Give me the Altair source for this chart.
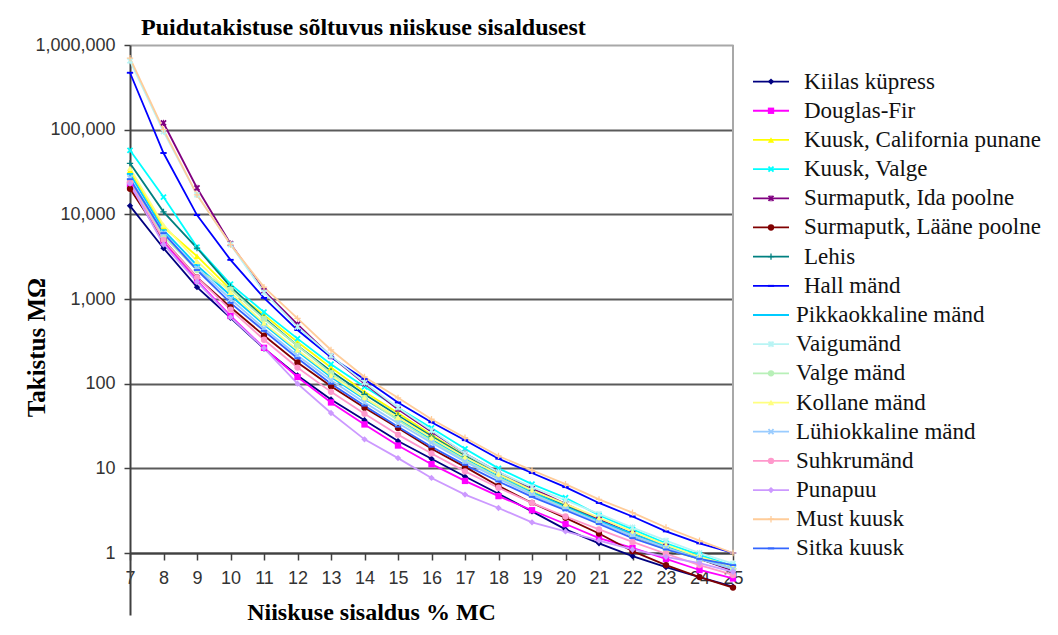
import altair as alt
import pandas as pd

# ---------------- data ----------------
moisture = list(range(7, 26))

series_names = [
    "Kiilas küpress", "Douglas-Fir", "Kuusk, California punane", "Kuusk, Valge",
    "Surmaputk, Ida poolne", "Surmaputk, Lääne poolne", "Lehis", "Hall mänd",
    "Pikkaokkaline mänd", "Vaigumänd", "Valge mänd", "Kollane mänd",
    "Lühiokkaline mänd", "Suhkrumänd", "Punapuu", "Must kuusk", "Sitka kuusk",
]

series_colors = [
    "#000080", "#FF00FF", "#FFFF00", "#00FFFF", "#800080", "#800000", "#008080",
    "#0000FF", "#00CCFF", "#B8F4F4", "#B8F0B8", "#FFFF80", "#99CCFF", "#FF99CC",
    "#CC99FF", "#FFCC99", "#3366FF",
]

r_kiilas = [12600, 3980, 1380, 600, 260, 125, 65, 37, 21, 13, 8.0, 5.0, 3.1, 1.9, 1.3, 0.92, 0.68, 0.52, 0.40]
r_douglas = [22400, 4780, 1660, 630, 265, 120, 60, 33, 18.6, 11.2, 7.1, 4.7, 3.2, 2.2, 1.5, 1.15, 0.85, 0.63, 0.50]
r_kuusk_cal = [33000, 7100, 3200, 1300, 650, 310, 155, 80, 45, 25, 14, 8.5, 5.5, 3.7, 2.4, 1.6, 1.1, 0.85, 0.65]
r_kuusk_valge = [57000, 16000, 4100, 1500, 700, 340, 170, 92, 52, 30, 17, 10, 6.5, 4.5, 2.8, 1.9, 1.3, 0.95, 0.70]
r_surma_ida = [None, 120000, 20500, 4500, 1250, 500, 210, 100, 50, 27, 15, 9.0, 5.8, 3.8, 2.5, 1.7, 1.2, 0.85, 0.62]
r_surma_laane = [20000, 5000, 1800, 800, 370, 178, 93, 52, 30, 17, 10.4, 6.2, 3.9, 2.6, 1.7, 1.05, 0.72, 0.52, 0.39]
r_lehis = [40000, 10700, 4000, 1400, 600, 280, 140, 75, 42, 24, 14, 8.5, 5.5, 3.6, 2.4, 1.6, 1.15, 0.85, 0.65]
r_hall = [470000, 53000, 9800, 2900, 1030, 430, 205, 113, 60, 35, 21.5, 13, 8.8, 6.0, 3.9, 2.7, 1.8, 1.3, 1.0]
r_pikka = [30000, 6500, 2500, 1100, 500, 240, 120, 66, 38, 22, 13, 8.0, 5.2, 3.5, 2.4, 1.7, 1.2, 0.9, 0.70]
r_vaigu = [650000, 95000, 17000, 4400, 1200, 470, 213, 103, 52, 28, 15, 9.0, 6.0, 4.2, 2.9, 2.0, 1.4, 1.0, 0.75]
r_valge_mand = [25000, 5500, 2200, 1300, 580, 280, 133, 68, 37, 21, 12.5, 7.8, 5.0, 3.4, 2.3, 1.6, 1.15, 0.85, 0.65]
r_kollane = [35000, 7500, 2800, 1200, 520, 250, 125, 68, 40, 23, 13.5, 8.5, 5.5, 3.8, 2.6, 1.8, 1.25, 0.9, 0.70]
r_luhi = [27000, 6000, 2300, 1000, 450, 215, 110, 60, 34, 20, 12, 7.5, 4.9, 3.3, 2.3, 1.6, 1.15, 0.85, 0.65]
r_suhkru = [24000, 5000, 1800, 750, 330, 155, 80, 44, 25, 15, 9.2, 5.9, 3.9, 2.7, 1.9, 1.35, 0.98, 0.72, 0.55]
r_punapuu = [23000, 4400, 1600, 610, 263, 100, 45, 22, 13.2, 7.7, 4.9, 3.4, 2.3, 1.8, 1.4, 1.1, 0.9, 0.76, 0.60]
r_must = [700000, 100000, 17000, 4400, 1380, 590, 250, 120, 68, 38, 23, 14, 9.5, 6.5, 4.3, 3.0, 2.0, 1.4, 1.0]
r_sitka = [26000, 6000, 2200, 900, 420, 200, 100, 55, 31, 18, 11, 7.0, 4.6, 3.2, 2.2, 1.5, 1.1, 0.85, 0.72]

series_values = [
    r_kiilas, r_douglas, r_kuusk_cal, r_kuusk_valge, r_surma_ida, r_surma_laane,
    r_lehis, r_hall, r_pikka, r_vaigu, r_valge_mand, r_kollane, r_luhi,
    r_suhkru, r_punapuu, r_must, r_sitka,
]

y_ticks = [1, 10, 100, 1000, 10000, 100000, 1000000]
x_ticks = moisture

chart_title = "Puidutakistuse sõltuvus niiskuse sisaldusest"

# marker shapes (Excel-like)
X_PATH = "M-1,-0.6L-0.6,-1L0,-0.4L0.6,-1L1,-0.6L0.4,0L1,0.6L0.6,1L0,0.4L-0.6,1L-1,0.6L-0.4,0Z"
STAR_PATH = X_PATH + "M-0.15,-1L0.15,-1L0.15,1L-0.15,1Z"
DASH_PATH = "M-1,-0.3L1,-0.3L1,0.3L-1,0.3Z"
PLUS_PATH = "M-0.2,-1L0.2,-1L0.2,-0.2L1,-0.2L1,0.2L0.2,0.2L0.2,1L-0.2,1L-0.2,0.2L-1,0.2L-1,-0.2L-0.2,-0.2Z"
series_shapes = [
    "diamond", "square", "triangle-up", X_PATH, STAR_PATH, "circle", PLUS_PATH,
    DASH_PATH, DASH_PATH, STAR_PATH, "circle", "triangle-up", X_PATH, "circle",
    "diamond", PLUS_PATH, DASH_PATH,
]

rows = []
for name, vals in zip(series_names, series_values):
    for mc, v in zip(moisture, vals):
        if v is not None:
            rows.append({"series": name, "mc": mc, "r": v})
df = pd.DataFrame(rows)

leg_df = pd.DataFrame({"series": series_names, "row": list(range(len(series_names)))})
title_df = pd.DataFrame({"t": [chart_title]})

# ---------------- layout ----------------
W = 603
H = 570
DECADE = 508 / 6.0
y_min = 10 ** (-(H - 508) / DECADE)

SERIF = "Liberation Serif, Times New Roman, serif"
SANS = "Liberation Sans, Arial, sans-serif"

color_scale = alt.Scale(domain=series_names, range=series_colors)
shape_scale = alt.Scale(domain=series_names, range=series_shapes)

x_axis = alt.Axis(
    values=x_ticks, tickCount=len(x_ticks), grid=False, offset=-(H - 508),
    labelOverlap=False, labelBound=False, labelFlush=False,
    domainColor="#404040", domainWidth=2,
    tickColor="#404040", tickWidth=1.5, tickSize=7,
    labelFont=SANS, labelFontSize=18, labelColor="#333333", labelPadding=9,
    title="Niiskuse sisaldus % MC", titleFont=SERIF, titleFontSize=24,
    titleFontWeight="bold", titleColor="#000000",
    titleX=241, titleY=66, titleAlign="center", titleBaseline="alphabetic",
)
y_axis = alt.Axis(
    values=y_ticks, format=",", grid=True, labelOverlap=False,
    gridColor={"condition": {"test": "datum.value >= 1000000", "value": "#a8a8a8"},
               "value": "#5a5a5a"},
    gridWidth=2,
    domainColor="#404040", domainWidth=2,
    tickColor="#404040", tickWidth=1.5, tickSize=6,
    labelFont=SANS, labelFontSize=18, labelColor="#333333", labelPadding=9,
    title="Takistus MΩ", titleFont=SERIF, titleFontSize=25, titleFontWeight="bold",
    titleColor="#000000", titleAngle=270, titleX=-94, titleY=302,
    titleAlign="center", titleBaseline="middle",
)
x_scale = alt.Scale(domain=[7, 25], nice=False, zero=False)
y_scale = alt.Scale(type="log", domain=[y_min, 1000000], nice=False)

x_enc = alt.X("mc:Q", scale=x_scale, axis=x_axis)
y_enc = alt.Y("r:Q", scale=y_scale, axis=y_axis)

lines = alt.Chart(df).mark_line(strokeWidth=1.8).encode(
    x=x_enc, y=y_enc,
    color=alt.Color("series:N", scale=color_scale, legend=None),
    detail="series:N",
)
points = alt.Chart(df).mark_point(filled=True, size=40, opacity=1).encode(
    x=x_enc, y=y_enc,
    color=alt.Color("series:N", scale=color_scale, legend=None),
    shape=alt.Shape("series:N", scale=shape_scale, legend=None),
)
right_border = alt.Chart(df).mark_rule(color="#a8a8a8", strokeWidth=2).encode(
    x=alt.value(W), y=alt.value(0), y2=alt.value(508)
)
title_mark = alt.Chart(title_df).mark_text(
    align="left", baseline="alphabetic", font=SERIF, fontSize=24,
    fontWeight="bold", color="#000000",
).encode(x=alt.value(11), y=alt.value(-10), text="t:N")
data_layer = alt.layer(right_border, lines, points, title_mark)

leg_y = alt.Y("row:O", scale=alt.Scale(range=[22, 518], padding=0), axis=None)
leg_rule = alt.Chart(leg_df).mark_rule(strokeWidth=1.8).encode(
    x=alt.value(623), x2=alt.value(659), y=leg_y,
    color=alt.Color("series:N", scale=color_scale, legend=None),
)
leg_pt = alt.Chart(leg_df).mark_point(filled=True, size=40, opacity=1).encode(
    x=alt.value(641), y=leg_y,
    color=alt.Color("series:N", scale=color_scale, legend=None),
    shape=alt.Shape("series:N", scale=shape_scale, legend=None),
)
leg_txt1 = alt.Chart(leg_df).transform_filter("datum.row < 8").mark_text(
    align="left", baseline="middle", font=SERIF, fontSize=23, color="#111111"
).encode(x=alt.value(674), y=leg_y, text="series:N")
leg_txt2 = alt.Chart(leg_df).transform_filter("datum.row >= 8").mark_text(
    align="left", baseline="middle", font=SERIF, fontSize=23, color="#111111"
).encode(x=alt.value(666), y=leg_y, text="series:N")
legend_layer = alt.layer(leg_rule, leg_pt, leg_txt1, leg_txt2)

chart = alt.layer(data_layer, legend_layer).resolve_scale(y="independent").properties(
    width=W, height=H,
    autosize=alt.AutoSizeParams(type="none"),
    padding={"left": 122, "top": 37, "right": 315, "bottom": 9},
).configure_view(stroke=None)

chart.save("out.html", embed_options={"renderer": "svg", "actions": False})
